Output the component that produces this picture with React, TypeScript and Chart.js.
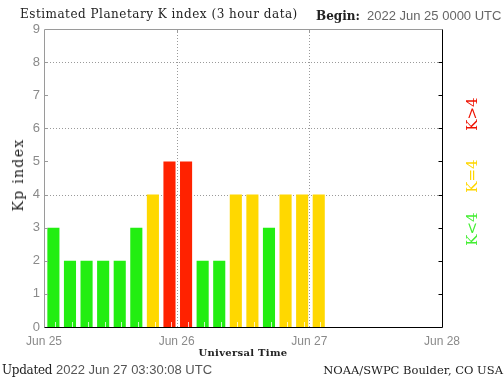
import React, { useEffect, useRef } from "react";
import { Chart, registerables } from "chart.js";

Chart.register(...registerables);

// 3-hour slots, hours since 2022 Jun 25 00:00 UTC
const SLOT_START_HOURS = [0, 3, 6, 9, 12, 15, 18, 21, 24, 27, 30, 33, 36, 39, 42, 45, 48];
const KP_VALUES = [3, 2, 2, 2, 2, 3, 4, 5, 5, 2, 2, 4, 4, 3, 4, 4, 4];
const DAY_LABELS = ["Jun 25", "Jun 26", "Jun 27", "Jun 28"];
const DAY_LINE_HOURS = [24, 48];
const GRID_LEVELS = [4, 6, 8];
const Y_MAX = 9;
const X_MAX_HOURS = 72;

const GREEN = "#22ee11";
const YELLOW = "#ffd800";
const RED = "#ff2200";

const colorFor = (k: number) => (k < 4 ? GREEN : k === 4 ? YELLOW : RED);

const framePlugin = {
  id: "noaaFrame",
  beforeDatasetsDraw(chart: any) {
    const { ctx, chartArea: a, scales } = chart;
    const xs = scales.x;
    const ys = scales.y;
    ctx.save();
    ctx.lineWidth = 1;
    ctx.strokeStyle = "#9a9a9a";
    ctx.setLineDash([1, 2]);
    GRID_LEVELS.forEach((lv) => {
      const y = Math.round(ys.getPixelForValue(lv)) + 0.5;
      ctx.beginPath();
      ctx.moveTo(a.left, y);
      ctx.lineTo(a.right, y);
      ctx.stroke();
    });
    DAY_LINE_HOURS.forEach((h) => {
      const x = Math.round(xs.getPixelForValue(h)) + 0.5;
      ctx.beginPath();
      ctx.moveTo(x, a.top);
      ctx.lineTo(x, a.bottom);
      ctx.stroke();
    });
    ctx.restore();
  },
  afterDatasetsDraw(chart: any) {
    const { ctx, chartArea: a, scales } = chart;
    const xs = scales.x;
    const ys = scales.y;
    ctx.save();
    ctx.lineWidth = 1;
    ctx.setLineDash([]);
    // minor ticks at the bottom (3-hour)
    ctx.strokeStyle = "rgba(255,255,255,0.75)";
    SLOT_START_HOURS.forEach((h) => {
      const x = Math.round(xs.getPixelForValue(h + 2)) + 0.5;
      ctx.beginPath();
      ctx.moveTo(x, a.bottom);
      ctx.lineTo(x, a.bottom - 5);
      ctx.stroke();
    });
    // left ticks
    ctx.strokeStyle = "#9a9a9a";
    for (let v = 1; v < Y_MAX; v++) {
      const y = Math.round(ys.getPixelForValue(v)) + 0.5;
      ctx.beginPath();
      ctx.moveTo(a.left, y);
      ctx.lineTo(a.left + 4, y);
      ctx.stroke();
    }
    // top ticks
    DAY_LINE_HOURS.forEach((h) => {
      const x = Math.round(xs.getPixelForValue(h)) + 0.5;
      ctx.beginPath();
      ctx.moveTo(x, a.top);
      ctx.lineTo(x, a.top + 4);
      ctx.stroke();
    });
    // left + top border (gray)
    const L = Math.round(a.left) + 0.5;
    const T = Math.round(a.top) + 0.5;
    const R = Math.round(a.right) + 0.5;
    const B = Math.round(a.bottom) + 0.5;
    ctx.beginPath();
    ctx.moveTo(L, B);
    ctx.lineTo(L, T);
    ctx.lineTo(R, T);
    ctx.stroke();
    // right + bottom border (black)
    ctx.strokeStyle = "#000";
    ctx.beginPath();
    ctx.moveTo(R, T);
    ctx.lineTo(R, B);
    ctx.lineTo(L, B);
    ctx.stroke();
    for (let v = 1; v < Y_MAX; v++) {
      const y = Math.round(ys.getPixelForValue(v)) + 0.5;
      ctx.beginPath();
      ctx.moveTo(R - 4, y);
      ctx.lineTo(R, y);
      ctx.stroke();
    }
    ctx.restore();
  },
};

const serif = "'DejaVu Serif', serif";
const sans = "'Liberation Sans', Arial, sans-serif";

function Text(props: { x: number; y: number; size: number; children: any; style?: any }) {
  return (
    <div
      style={{
        position: "absolute",
        left: props.x,
        top: props.y - Math.round(props.size * 0.85),
        fontSize: props.size,
        lineHeight: props.size + "px",
        whiteSpace: "nowrap",
        ...props.style,
      }}
    >
      {props.children}
    </div>
  );
}

function Rotated(props: {
  cx: number;
  cy: number;
  size: number;
  color: string;
  children: any;
  spacing?: number;
}) {
  return (
    <div
      style={{
        position: "absolute",
        left: props.cx,
        top: props.cy,
        transform: "translate(-50%,-50%) rotate(-90deg)",
        fontFamily: serif,
        fontSize: props.size,
        lineHeight: props.size + "px",
        letterSpacing: props.spacing || 0,
        color: props.color,
        whiteSpace: "nowrap",
      }}
    >
      {props.children}
    </div>
  );
}

export default function App() {
  const ref = useRef<HTMLCanvasElement | null>(null);

  useEffect(() => {
    if (!ref.current) return;
    const chart = new Chart(ref.current, {
      type: "bar",
      data: {
        datasets: [
          {
            data: SLOT_START_HOURS.map((h, i) => ({ x: h + 1.7, y: KP_VALUES[i] })),
            backgroundColor: KP_VALUES.map(colorFor),
            borderWidth: 0,
            barPercentage: 0.73,
            categoryPercentage: 1,
          } as any,
        ],
      },
      options: {
        animation: false,
        responsive: false,
        devicePixelRatio: 1,
        layout: { padding: { top: 29, right: 62, left: 0, bottom: 0 } },
        plugins: {
          legend: { display: false },
          tooltip: { enabled: false },
          title: { display: false },
        },
        scales: {
          x: {
            type: "linear",
            min: 0,
            max: X_MAX_HOURS,
            offset: false,
            grid: { display: false, drawTicks: false },
            border: { display: false },
            ticks: {
              stepSize: 24,
              autoSkip: false,
              maxRotation: 0,
              padding: 7,
              color: "#8a8a8a",
              font: { family: sans, size: 12 },
              callback: (v: any) => DAY_LABELS[Math.round(Number(v) / 24)] ?? "",
            },
            afterFit: (s: any) => {
              s.height = 51;
            },
          } as any,
          y: {
            min: 0,
            max: Y_MAX,
            grid: { display: false, drawTicks: false },
            border: { display: false },
            ticks: {
              stepSize: 1,
              padding: 4,
              color: "#8a8a8a",
              font: { family: sans, size: 13 },
            },
            afterFit: (s: any) => {
              s.width = 44;
            },
          } as any,
        },
      },
      plugins: [framePlugin],
    } as any);
    return () => chart.destroy();
  }, []);

  return (
    <div
      style={{
        position: "absolute",
        left: 0,
        top: 0,
        width: 504,
        height: 378,
        background: "#fff",
        overflow: "hidden",
      }}
    >
      <canvas ref={ref} width={504} height={378} style={{ display: "block", width: 504, height: 378 }} />
      <Text x={20} y={18} size={12} style={{ fontFamily: serif, color: "#222", letterSpacing: 0.5 }}>
        Estimated Planetary K index (3 hour data)
      </Text>
      <Text x={316} y={20} size={12} style={{ fontFamily: serif, fontWeight: "bold", color: "#222" }}>
        Begin:
      </Text>
      <Text x={367} y={20} size={13} style={{ fontFamily: sans, color: "#666" }}>
        2022 Jun 25 0000 UTC
      </Text>
      <div
        style={{
          position: "absolute",
          left: 243,
          top: 356 - 8,
          transform: "translateX(-50%)",
          fontFamily: serif,
          fontWeight: "bold",
          fontSize: 10,
          lineHeight: "10px",
          letterSpacing: 0.3,
          color: "#222",
          whiteSpace: "nowrap",
        }}
      >
        Universal Time
      </div>
      <Text x={2} y={374} size={12} style={{ fontFamily: serif, color: "#222" }}>
        <span style={{ letterSpacing: -0.3 }}>Updated</span>{" "}
        <span style={{ fontFamily: sans, fontSize: 13, color: "#555" }}>2022 Jun 27 03:30:08 UTC</span>
      </Text>
      <div
        style={{
          position: "absolute",
          right: 1,
          top: 374 - 10,
          fontFamily: serif,
          fontSize: 11.5,
          lineHeight: "12px",
          color: "#222",
          whiteSpace: "nowrap",
        }}
      >
        NOAA/SWPC Boulder, CO USA
      </div>
      <Rotated cx={18} cy={175} size={14} color="#222" spacing={1.3}>
        Kp index
      </Rotated>
      <Rotated cx={472} cy={114} size={15} color="#ee1100">
        {"K>4"}
      </Rotated>
      <Rotated cx={472} cy={176} size={15} color="#ffd700">
        {"K=4"}
      </Rotated>
      <Rotated cx={472} cy={229} size={15} color="#44ee33">
        {"K<4"}
      </Rotated>
    </div>
  );
}
